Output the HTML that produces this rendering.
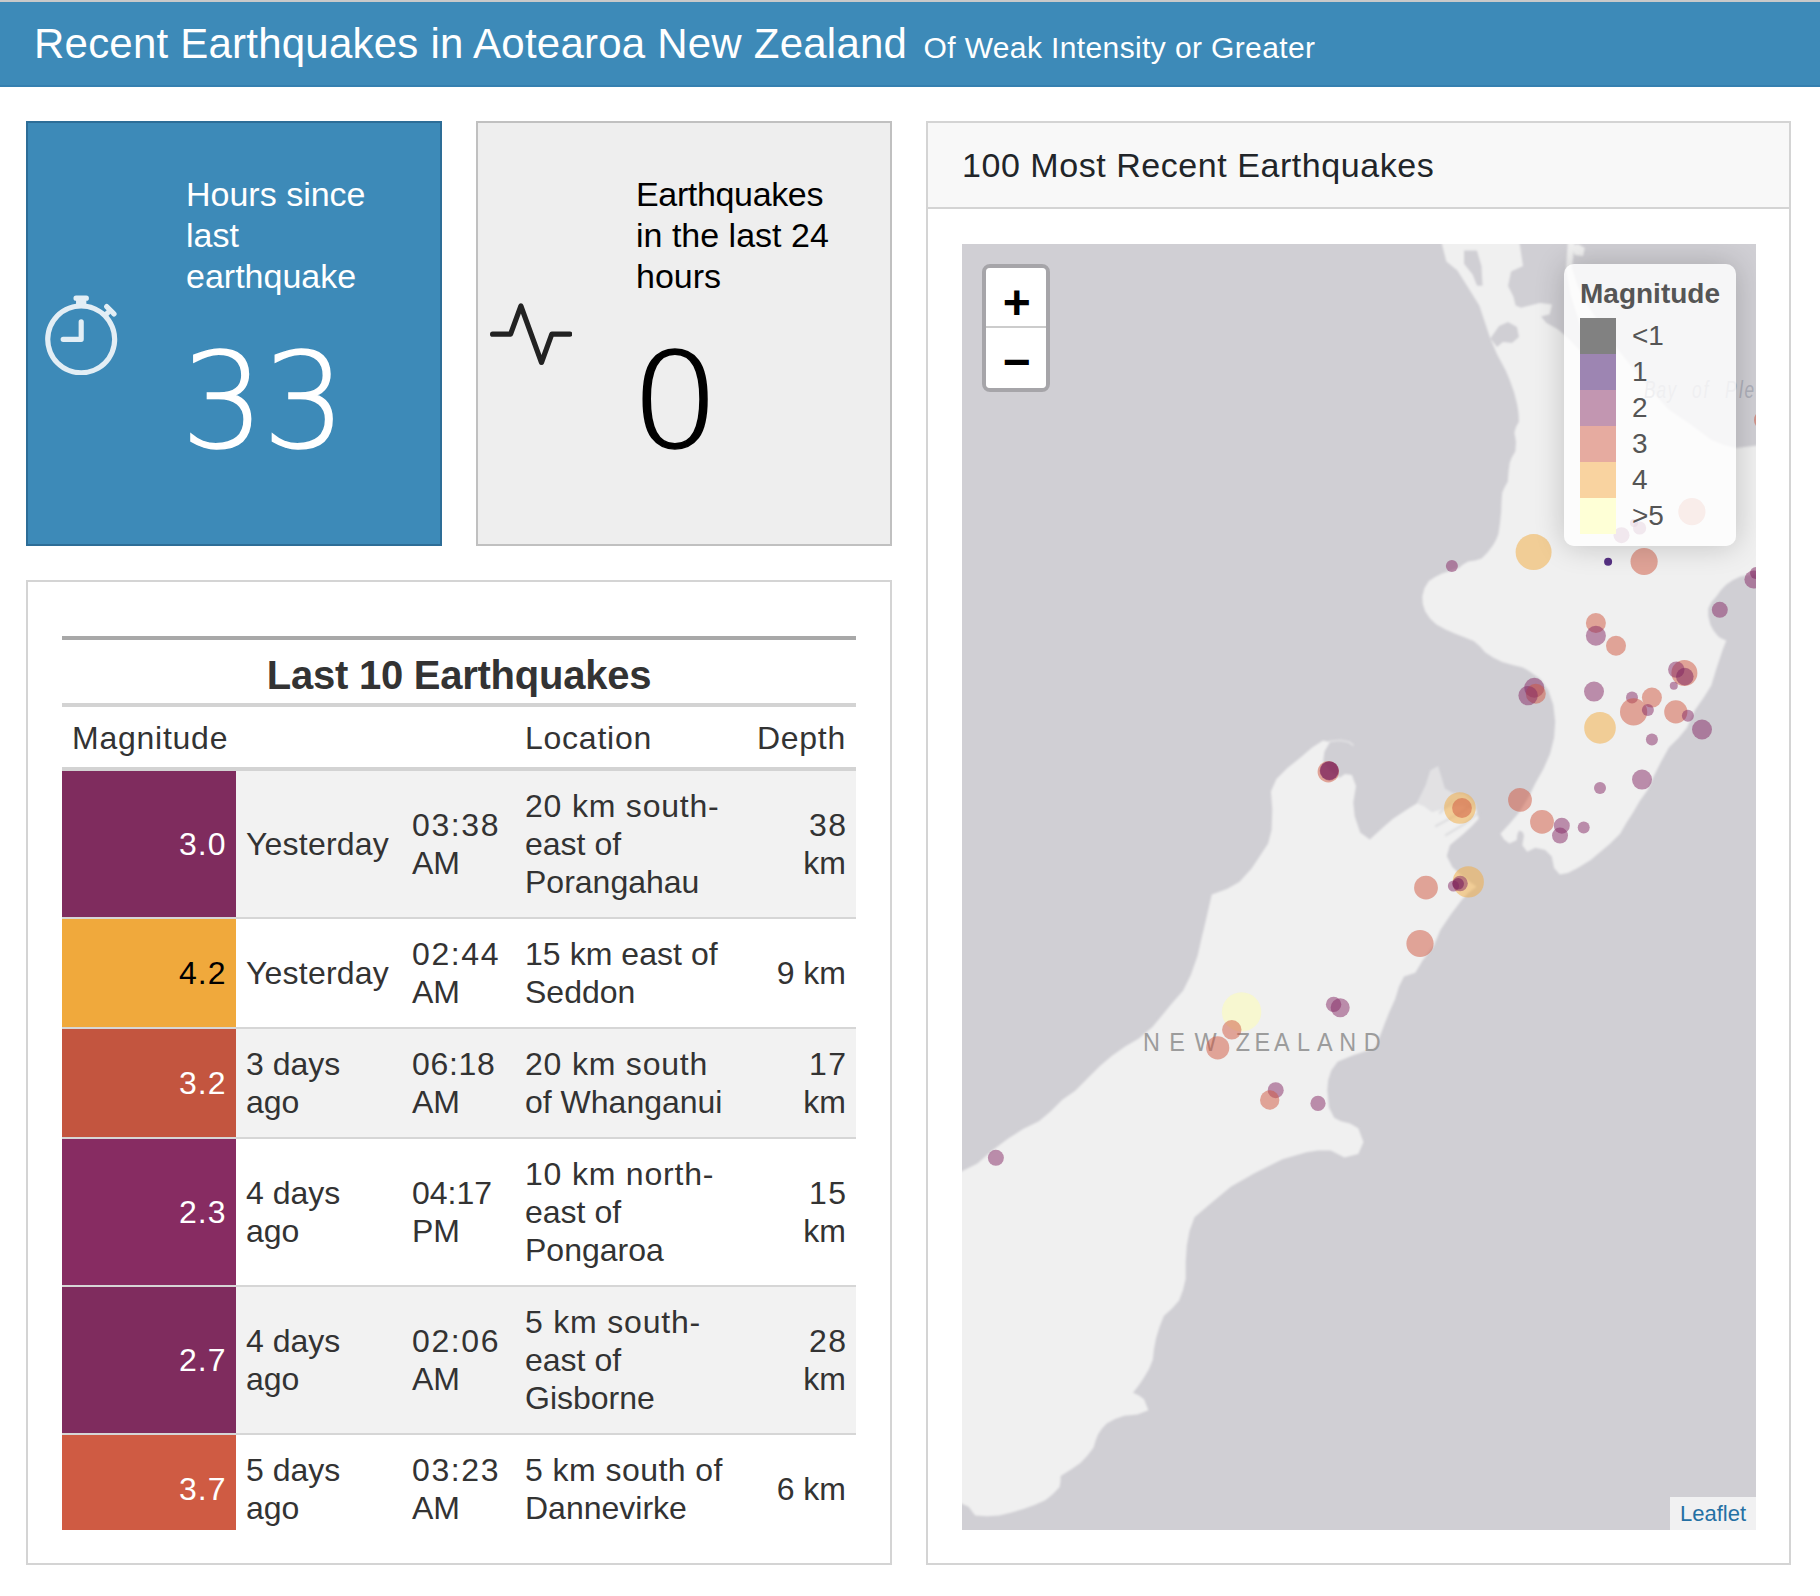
<!DOCTYPE html>
<html lang="en">
<head>
<meta charset="utf-8">
<title>Recent Earthquakes in Aotearoa New Zealand</title>
<style>
*{box-sizing:border-box;margin:0;padding:0}
html,body{width:1820px;height:1596px;overflow:hidden;background:#fff}
body{position:relative;font-family:"Liberation Sans",sans-serif;color:#212529}
.abs{position:absolute}
#topline{left:0;top:0;width:1820px;height:2px;background:#c9c9c9}
#nav{left:0;top:2px;width:1820px;height:85px;background:#3d8ab8;color:#fff;border-bottom:2px solid #3580b0}
#nav .t1{position:absolute;left:34px;top:15.5px;font-size:42px;line-height:52px;white-space:nowrap;letter-spacing:0.22px}
#nav .t2{position:absolute;left:923.5px;top:25.5px;font-size:30px;line-height:40px;white-space:nowrap;letter-spacing:0.38px}
.vb{position:absolute;top:121px;width:416px;height:425px}
#vb1{left:26px;background:#3d8ab8;border:2px solid #2d6d97;color:#fff}
#vb2{left:476px;background:#eeeeee;border:2px solid #c0c0c0;color:#000}
.vb svg{position:absolute;left:11.7px;top:169.5px;width:82.4px;height:82.4px}
.vb .lbl{position:absolute;left:158px;top:51px;font-size:34px;line-height:41px;white-space:nowrap}
.vb .num{position:absolute;left:153px;top:198.5px;font-family:"DejaVu Sans Light","DejaVu Sans",sans-serif;font-weight:200;font-size:131px;line-height:160px;white-space:nowrap;-webkit-text-stroke:1.5px currentColor;letter-spacing:-1.8px}
.card{position:absolute;border:2px solid #d4d4d4;background:#fff}
#tcard{left:26px;top:580px;width:866px;height:985px;overflow:hidden}
#mcard{left:926px;top:121px;width:865px;height:1444px}
#mcard .hd{position:absolute;left:0;top:0;width:861px;height:86px;background:#f8f8f8;border-bottom:2px solid #d4d4d4}
#mcard .hd span{position:absolute;left:34px;top:20px;font-size:34px;line-height:44px;white-space:nowrap;color:#212529;letter-spacing:0.55px}
#map{position:absolute;left:962px;top:244px;width:794px;height:1286px;background:#d0cfd4;overflow:hidden}

#twrap{position:absolute;left:34px;top:54px;width:794px;height:894px;overflow:hidden}
#gt{border-collapse:collapse;table-layout:fixed;width:794px;color:#333;font-size:32px;line-height:38px;border-top:4px solid #a8a8a8}
#gt td,#gt th{padding:16px 10px;text-align:left;vertical-align:middle;font-weight:normal;white-space:nowrap}
#gt .ttl th{font-weight:bold;font-size:40px;line-height:47px;text-align:center;padding:12px 10px 4px;letter-spacing:-0.25px;border-bottom:4px solid #d3d3d3}
#gt .cl th{padding:12px 10px 10px;border-bottom:4px solid #d3d3d3;letter-spacing:0.75px;vertical-align:bottom}
#gt tbody td{border-top:2px solid #d6d6d6}
#gt tbody tr:first-child td{border-top:none}
#gt tr.s td{background:#f2f2f2}
#gt td.m{text-align:right;color:#fff;letter-spacing:1px;padding-right:9.5px}
#gt .r{text-align:right}
#gt .tm{letter-spacing:1.6px}
#gt .d{letter-spacing:0.8px}
#gt .r .d{letter-spacing:1.5px;margin-right:-1.5px}
#gt .y{letter-spacing:0.2px}

#zoom{position:absolute;left:20px;top:20px;width:68px;height:128px;border:4px solid rgba(0,0,0,0.2);border-radius:8px;background-clip:padding-box}
#zoom .zb{position:absolute;left:0;width:60px;height:60px;background:#fff;color:#000;text-align:center;text-indent:1.6px;font:bold 48px/56px "Liberation Sans",sans-serif}
#zoom .zp{top:0;line-height:69px;border-bottom:2px solid #ccc;border-radius:4px 4px 0 0}
#zoom .zm{top:60px;line-height:67.6px;border-radius:0 0 4px 4px}
#legend{position:absolute;left:602px;top:20px;width:172px;height:282px;background:rgba(255,255,255,0.8);border-radius:10px;box-shadow:0 0 30px rgba(0,0,0,0.2);color:#555;font:28px/32px "Liberation Sans",sans-serif}
#legend .lt{position:absolute;left:16px;top:14px;font-weight:bold;white-space:nowrap}
#legend i{position:absolute;left:16px;width:36px;height:36px}
#legend b{position:absolute;left:68px;font-weight:normal;line-height:36px;white-space:nowrap}
#attr{position:absolute;right:0;bottom:0;width:86px;height:33px;background:rgba(255,255,255,0.7);color:#2570a4;font:22px/33px "Liberation Sans",sans-serif;text-align:center}
#vb2 .num{transform:scaleX(1.07);transform-origin:3px 50%}
</style>
</head>
<body>
<div id="topline" class="abs"></div>
<div id="nav" class="abs"><span class="t1">Recent Earthquakes in Aotearoa New Zealand</span><span class="t2">Of Weak Intensity or Greater</span></div>

<div id="vb1" class="vb">
<svg viewBox="0 0 16 16" fill="#e3eef5"><path d="M8.5 5.6a.5.5 0 1 0-1 0v2.9h-3a.5.5 0 0 0 0 1H8a.5.5 0 0 0 .5-.5V5.6z"/><path d="M6.5 1A.5.5 0 0 1 7 .5h2a.5.5 0 0 1 0 1v.57c1.36.196 2.594.78 3.584 1.64a.715.715 0 0 1 .012-.013l.354-.354-.354-.353a.5.5 0 0 1 .707-.708l1.414 1.415a.5.5 0 1 1-.707.707l-.353-.354-.354.354a.512.512 0 0 1-.013.012A7 7 0 1 1 7 2.071V1.500a.5.5 0 0 1-.5-.5zM8 3a6 6 0 1 0 .001 12A6 6 0 0 0 8 3z"/></svg>
<div class="lbl">Hours since<br>last<br>earthquake</div>
<div class="num">33</div>
</div>

<div id="vb2" class="vb">
<svg viewBox="0 0 16 16" fill="#222"><path fill-rule="evenodd" d="M6 2a.5.5 0 0 1 .47.33L10 12.036l1.53-4.208A.5.5 0 0 1 12 7.5h3.5a.5.5 0 0 1 0 1h-3.15l-1.88 5.17a.5.5 0 0 1-.94 0L6 3.964 4.47 8.171A.5.5 0 0 1 4 8.5H.5a.5.5 0 0 1 0-1h3.15l1.88-5.17A.5.5 0 0 1 6 2Z"/></svg>
<div class="lbl"><span style="letter-spacing:-0.35px">Earthquakes</span><br>in the last 24<br>hours</div>
<div class="num">0</div>
</div>

<div id="tcard" class="card">
<div id="twrap"><table id="gt"><colgroup><col style="width:174px"><col style="width:166px"><col style="width:113px"><col style="width:231px"><col style="width:110px"></colgroup>
<thead><tr class="ttl"><th colspan="5">Last 10 Earthquakes</th></tr>
<tr class="cl"><th>Magnitude</th><th></th><th></th><th>Location</th><th class="r">Depth</th></tr></thead>
<tbody>
<tr class="s"><td class="m" style="background:#7f2c5e;color:#fff">3.0</td><td class="y">Yesterday</td><td><span class="tm">03:38</span><br>AM</td><td><span class="d">20 km south-</span><br>east of<br>Porangahau</td><td class="r"><span class="d">38</span><br>km</td></tr>
<tr><td class="m" style="background:#f0a93c;color:#000">4.2</td><td class="y">Yesterday</td><td><span class="tm">02:44</span><br>AM</td><td><span style="letter-spacing:0.05px">15 km east of</span><br>Seddon</td><td class="r">9 km</td></tr>
<tr class="s"><td class="m" style="background:#c3553f;color:#fff">3.2</td><td>3 days<br>ago</td><td><span class="tm" style="letter-spacing:0.7px">06:18</span><br>AM</td><td><span class="d">20 km south</span><br>of Whanganui</td><td class="r"><span class="d">17</span><br>km</td></tr>
<tr><td class="m" style="background:#872c62;color:#fff">2.3</td><td>4 days<br>ago</td><td><span class="tm" style="letter-spacing:0px">04:17</span><br>PM</td><td><span class="d">10 km north-</span><br>east of<br>Pongaroa</td><td class="r"><span class="d">15</span><br>km</td></tr>
<tr class="s"><td class="m" style="background:#7f2c5e;color:#fff">2.7</td><td>4 days<br>ago</td><td><span class="tm">02:06</span><br>AM</td><td><span class="d">5 km south-</span><br>east of<br>Gisborne</td><td class="r"><span class="d">28</span><br>km</td></tr>
<tr><td class="m" style="background:#cf5b43;color:#fff">3.7</td><td>5 days<br>ago</td><td><span class="tm">03:23</span><br>AM</td><td><span style="letter-spacing:0.45px">5 km south of</span><br>Dannevirke</td><td class="r">6 km</td></tr>
</tbody></table></div>
</div>

<div id="mcard" class="card"><div class="hd"><span>100 Most Recent Earthquakes</span></div></div>
<div id="map">
<svg class="abs" style="left:0;top:0" width="794" height="1286" viewBox="0 0 794 1286">
<defs><filter id="bl" x="-5%" y="-5%" width="110%" height="110%"><feGaussianBlur stdDeviation="0.9"/></filter></defs>
<g filter="url(#bl)">
<polygon fill="#f0f0f0" points="478.9,-4.0 484.4,17.6 495.4,26.4 506.4,44.0 517.3,61.5 523.9,81.3 528.3,94.5 534.9,109.9 543.7,126.4 547.7,136.0 552.0,148.0 555.2,160.4 556.5,169.0 557.0,177.4 554.0,183.0 552.4,188.6 554.0,198.0 553.3,207.4 550.0,213.0 547.7,218.7 546.5,228.0 545.8,237.5 542.5,243.5 540.2,248.8 539.5,258.0 539.2,267.6 538.0,279.0 536.4,290.1 534.0,296.0 530.8,301.4 525.5,308.5 519.5,314.6 513.0,316.5 506.3,317.4 501.0,320.5 496.9,324.0 488.0,327.0 480.0,329.6 473.0,333.0 466.9,337.1 462.5,344.0 460.3,352.2 460.8,360.0 463.1,367.2 468.0,374.5 474.4,380.4 483.5,385.5 493.2,389.8 503.0,393.5 512.0,397.3 518.0,402.5 523.3,408.6 531.5,413.8 540.2,418.0 550.5,421.0 560.9,423.6 568.0,427.5 566.9,426.9 578.3,435.1 586.4,446.5 591.3,461.1 593.2,477.4 592.1,493.7 588.0,510.0 581.5,524.7 573.4,539.3 566.9,552.4 557.1,568.6 547.3,580.0 538.4,589.8 542.0,595.5 547.3,599.6 554.6,596.3 555.5,590.0 557.1,586.5 560.5,588.0 562.0,591.4 560.3,601.2 565.2,607.7 573.4,603.7 583.1,606.1 589.7,612.6 592.1,624.0 597.8,630.5 605.9,628.9 615.7,624.0 628.7,615.9 638.5,607.7 648.3,599.6 658.1,589.8 664.6,578.4 671.1,568.6 677.6,557.2 685.8,545.8 690.6,534.4 698.8,518.2 706.9,503.5 716.7,493.7 724.8,484.0 733.0,466.0 741.1,454.6 749.3,441.6 754.2,425.3 760.7,405.8 764.3,396.5 760.0,394.8 756.3,392.5 751.5,386.5 748.3,380.4 746.3,372.0 746.3,364.4 749.5,358.0 754.3,352.4 759.0,346.0 764.3,340.4 771.0,336.0 778.4,332.4 786.0,331.0 798.0,330.3 798.0,201.0 774.4,204.0 762.0,201.0 749.6,196.0 728.0,180.0 705.7,164.8 678.0,133.0 650.7,99.0 634.0,74.0 622.0,56.0 615.0,40.0 610.0,24.0 613.0,-4.0"/>
<polygon fill="#d0cfd4" points="557.0,-4.0 561.0,22.0 549.0,27.5 546.0,42.0 551.4,52.7 553.6,61.5 559.0,63.7 568.0,61.5 578.0,59.0 590.0,60.4 587.7,70.3 579.0,72.5 584.4,79.0 596.5,85.7 608.0,96.0 619.0,108.0 622.0,96.0 616.0,74.0 609.0,52.0 604.0,26.0 606.0,-4.0"/>
<polygon fill="#d0cfd4" points="502.0,6.6 515.0,6.6 519.5,22.0 520.6,41.8 515.0,41.8 510.7,30.8 502.0,19.8"/>
<polygon fill="#d0cfd4" points="528.3,94.5 537.0,82.0 546.0,78.0 555.0,83.0 557.0,93.0 550.0,99.0 541.0,98.0 535.0,103.0"/>
<polygon fill="#f0f0f0" points="609.6,2.0 616.0,0.0 622.8,4.0 621.0,12.0 613.0,11.0"/>
<polygon fill="#f0f0f0" points="-7.0,931.0 0.0,927.2 15.4,919.5 30.8,906.0 46.2,894.5 61.5,884.8 76.9,877.2 88.5,867.5 100.0,856.0 113.5,846.4 126.9,832.9 138.5,821.4 150.0,811.8 163.5,802.2 176.9,794.5 190.4,782.9 200.0,771.4 209.6,759.8 221.2,746.4 228.8,731.0 235.6,711.8 240.4,690.6 241.6,686.0 245.7,668.3 249.8,650.5 264.9,645.0 277.3,638.1 289.6,624.4 297.9,612.0 306.1,599.6 309.6,585.9 310.3,565.3 308.9,547.4 314.4,535.1 325.4,524.1 339.1,513.1 350.1,503.5 361.1,496.6 368.0,498.0 362.5,507.6 361.1,517.2 368.0,527.0 377.6,533.7 383.0,530.0 389.9,531.0 394.0,541.9 391.3,558.4 392.7,572.2 398.2,588.6 407.8,595.5 421.5,583.1 431.0,574.7 444.2,565.9 455.0,559.3 462.0,562.0 470.0,568.0 483.0,564.0 498.0,561.0 514.5,565.9 516.7,574.7 510.0,582.0 501.3,590.0 488.0,601.0 484.8,612.0 490.3,623.0 500.0,632.0 514.5,642.8 506.0,649.0 499.7,656.0 488.4,671.0 478.4,686.0 472.0,701.2 460.8,716.2 453.3,728.7 442.0,732.5 437.0,742.5 433.2,755.0 427.0,768.8 422.0,781.4 418.2,791.4 413.2,803.9 390.6,811.4 375.6,817.7 369.3,826.5 366.2,836.0 365.3,846.3 367.0,863.5 372.2,873.8 379.0,877.3 388.0,879.5 396.3,884.2 401.5,898.0 396.3,910.0 382.5,913.5 368.7,906.6 356.0,906.5 344.6,908.3 320.5,915.2 292.9,929.0 268.8,942.8 248.1,960.0 232.5,973.3 227.5,987.0 224.8,1001.8 223.7,1018.0 223.7,1034.7 221.0,1046.0 217.1,1056.6 210.0,1064.5 201.8,1072.0 197.5,1083.0 194.1,1093.9 192.0,1105.0 190.8,1115.8 187.0,1125.0 182.0,1133.4 177.0,1141.0 171.0,1148.7 177.0,1151.5 182.0,1155.3 186.4,1166.3 175.4,1170.6 162.3,1171.7 153.0,1175.0 144.7,1179.4 140.0,1184.5 136.0,1190.4 133.5,1197.0 131.6,1203.5 125.5,1211.5 118.4,1218.9 109.0,1225.5 98.7,1232.0 98.5,1237.5 97.6,1243.0 91.0,1250.0 83.3,1256.2 72.5,1261.0 61.4,1265.0 49.5,1268.5 37.3,1271.5 25.0,1272.3 13.2,1271.5 6.6,1262.8 0.0,1259.8 -7.0,1256.0"/>
<polygon fill="#f0f0f0" fill-opacity="0.55" points="454.7,559.2 463.7,541.1 468.2,526.5 476.1,521.9 479.5,533.2 482.9,544.5 490.8,549.0 502.0,550.1 513.3,559.2 514.5,565.9 498.0,561.0 483.0,564.0 470.0,568.0 462.0,562.0"/>
<polyline fill="none" stroke="#d0cfd4" stroke-opacity="0.55" stroke-width="2.4" stroke-linecap="round" points="474.0,582.0 500.0,568.0 512.0,559.0"/>
<polyline fill="none" stroke="#d0cfd4" stroke-opacity="0.55" stroke-width="2.4" stroke-linecap="round" points="484.0,591.0 504.0,579.0 516.0,569.0"/>
<polyline fill="none" stroke="#d0cfd4" stroke-opacity="0.55" stroke-width="2.4" stroke-linecap="round" points="478.0,569.0 490.0,557.0"/>
<polyline fill="none" stroke="#f0f0f0" stroke-opacity="0.6" stroke-width="1.6" points="367.0,497.5 378.0,496.3 387.0,498.0 391.5,501.5"/>
</g>
<text transform="scale(0.9 1)" x="201.1 230.3 258.3 288.9 304.2 325.1 346.7 372.2 394.4 419.1 446.4" y="807.2" font-family="Liberation Sans, sans-serif" font-size="26" fill="#9c9c9c">NEW ZEALAND</text>
<text transform="scale(0.72 1)" x="947.2 964.6 979.9 997.2 1013.9 1029.9 1043.1 1059.7 1079.2 1086.8 1104.2 1120.8 1133.3" y="154" font-family="Liberation Sans, sans-serif" font-style="italic" font-size="24" fill="#aeb0ba">Bay of Plenty</text>
<circle cx="489.9" cy="321.9" r="6" fill="#842864" fill-opacity="0.5"/>
<circle cx="571.6" cy="308.1" r="18" fill="#f2aa3c" fill-opacity="0.5"/>
<circle cx="646.1" cy="317.7" r="4" fill="#3b0f70" fill-opacity="0.85"/>
<circle cx="682.1" cy="317.5" r="13.6" fill="#d0563e" fill-opacity="0.5"/>
<circle cx="791.4" cy="335.5" r="9" fill="#842864" fill-opacity="0.5"/>
<circle cx="794.0" cy="329.0" r="6" fill="#7a1f5c" fill-opacity="0.5"/>
<circle cx="802.0" cy="175.9" r="10" fill="#d0563e" fill-opacity="0.5"/>
<circle cx="757.8" cy="365.8" r="8" fill="#842864" fill-opacity="0.5"/>
<circle cx="633.9" cy="379.0" r="10" fill="#d0563e" fill-opacity="0.5"/>
<circle cx="633.9" cy="391.8" r="10" fill="#842864" fill-opacity="0.5"/>
<circle cx="654.0" cy="401.7" r="10" fill="#d0563e" fill-opacity="0.5"/>
<circle cx="722.4" cy="429.0" r="13" fill="#d0563e" fill-opacity="0.5"/>
<circle cx="714.3" cy="425.6" r="8.2" fill="#842864" fill-opacity="0.5"/>
<circle cx="722.8" cy="432.6" r="8.8" fill="#7a1f5c" fill-opacity="0.5"/>
<circle cx="711.8" cy="441.7" r="4" fill="#842864" fill-opacity="0.5"/>
<circle cx="572.3" cy="443.7" r="10" fill="#842864" fill-opacity="0.5"/>
<circle cx="573.8" cy="449.8" r="10" fill="#d0563e" fill-opacity="0.5"/>
<circle cx="566.1" cy="451.6" r="9.7" fill="#842864" fill-opacity="0.5"/>
<circle cx="632.0" cy="447.6" r="10" fill="#842864" fill-opacity="0.5"/>
<circle cx="670.0" cy="453.6" r="6" fill="#842864" fill-opacity="0.5"/>
<circle cx="689.9" cy="453.6" r="10" fill="#d0563e" fill-opacity="0.5"/>
<circle cx="671.6" cy="467.9" r="13.6" fill="#d0563e" fill-opacity="0.5"/>
<circle cx="685.9" cy="465.9" r="6" fill="#842864" fill-opacity="0.5"/>
<circle cx="713.8" cy="467.9" r="11.6" fill="#d0563e" fill-opacity="0.5"/>
<circle cx="725.9" cy="471.8" r="6" fill="#842864" fill-opacity="0.5"/>
<circle cx="740.0" cy="485.5" r="10" fill="#842864" fill-opacity="0.5"/>
<circle cx="638.0" cy="483.9" r="15.8" fill="#f2aa3c" fill-opacity="0.5"/>
<circle cx="689.9" cy="495.6" r="6" fill="#842864" fill-opacity="0.5"/>
<circle cx="680.0" cy="535.6" r="10" fill="#842864" fill-opacity="0.5"/>
<circle cx="638.0" cy="543.9" r="6" fill="#842864" fill-opacity="0.5"/>
<circle cx="558.0" cy="555.9" r="11.9" fill="#d0563e" fill-opacity="0.5"/>
<circle cx="580.0" cy="577.9" r="11.9" fill="#d0563e" fill-opacity="0.5"/>
<circle cx="599.8" cy="581.7" r="8" fill="#842864" fill-opacity="0.5"/>
<circle cx="598.0" cy="591.6" r="8" fill="#842864" fill-opacity="0.5"/>
<circle cx="621.7" cy="583.5" r="6" fill="#842864" fill-opacity="0.5"/>
<circle cx="497.9" cy="564.0" r="15.8" fill="#f2aa3c" fill-opacity="0.5"/>
<circle cx="500.0" cy="564.0" r="9.9" fill="#d0563e" fill-opacity="0.5"/>
<circle cx="506.3" cy="637.9" r="15.6" fill="#f2aa3c" fill-opacity="0.5"/>
<circle cx="491.5" cy="642.0" r="5.6" fill="#842864" fill-opacity="0.5"/>
<circle cx="498.1" cy="639.5" r="7.7" fill="#842864" fill-opacity="0.5"/>
<circle cx="496.2" cy="639.8" r="5.8" fill="#7a1f5c" fill-opacity="0.6"/>
<circle cx="464.0" cy="643.7" r="11.9" fill="#d0563e" fill-opacity="0.5"/>
<circle cx="366.3" cy="527.8" r="10.7" fill="#d0563e" fill-opacity="0.5"/>
<circle cx="367.3" cy="526.8" r="9.6" fill="#7a1f5c" fill-opacity="0.5"/>
<circle cx="367.3" cy="526.8" r="9.2" fill="#7a1f5c" fill-opacity="0.5"/>
<circle cx="458.0" cy="699.5" r="13.6" fill="#d0563e" fill-opacity="0.5"/>
<circle cx="279.6" cy="767.9" r="19.7" fill="#fefeb0" fill-opacity="0.5"/>
<circle cx="269.8" cy="785.8" r="9.7" fill="#d0563e" fill-opacity="0.5"/>
<circle cx="255.7" cy="803.8" r="11.6" fill="#d0563e" fill-opacity="0.5"/>
<circle cx="371.6" cy="760.4" r="7.7" fill="#842864" fill-opacity="0.5"/>
<circle cx="378.2" cy="763.7" r="9.5" fill="#842864" fill-opacity="0.5"/>
<circle cx="33.9" cy="913.8" r="8" fill="#842864" fill-opacity="0.5"/>
<circle cx="313.7" cy="846.2" r="8" fill="#842864" fill-opacity="0.5"/>
<circle cx="307.7" cy="856.0" r="9.7" fill="#d0563e" fill-opacity="0.5"/>
<circle cx="356.0" cy="859.4" r="7.6" fill="#842864" fill-opacity="0.5"/>
<circle cx="729.9" cy="267.7" r="13.6" fill="#d0563e" fill-opacity="0.5"/>
<circle cx="659.5" cy="291.2" r="8" fill="#842864" fill-opacity="0.5"/>
<circle cx="677.6" cy="284.0" r="6.6" fill="#842864" fill-opacity="0.5"/>
<circle cx="672.0" cy="279.0" r="4" fill="#842864" fill-opacity="0.5"/>
</svg>
<div id="zoom"><span class="zb zp">+</span><span class="zb zm">&#x2212;</span></div>
<div id="legend"><div class="lt">Magnitude</div>
<i style="top:54px;background:#818181"></i><i style="top:90px;background:#9d85b2"></i><i style="top:126px;background:#c296b1"></i><i style="top:162px;background:#e6aba0"></i><i style="top:198px;background:#f9d3a0"></i><i style="top:234px;background:#feffd6"></i>
<b style="top:54px">&lt;1</b><b style="top:90px">1</b><b style="top:126px">2</b><b style="top:162px">3</b><b style="top:198px">4</b><b style="top:234px">&gt;5</b>
</div>
<div id="attr">Leaflet</div>

</div>
</body>
</html>
